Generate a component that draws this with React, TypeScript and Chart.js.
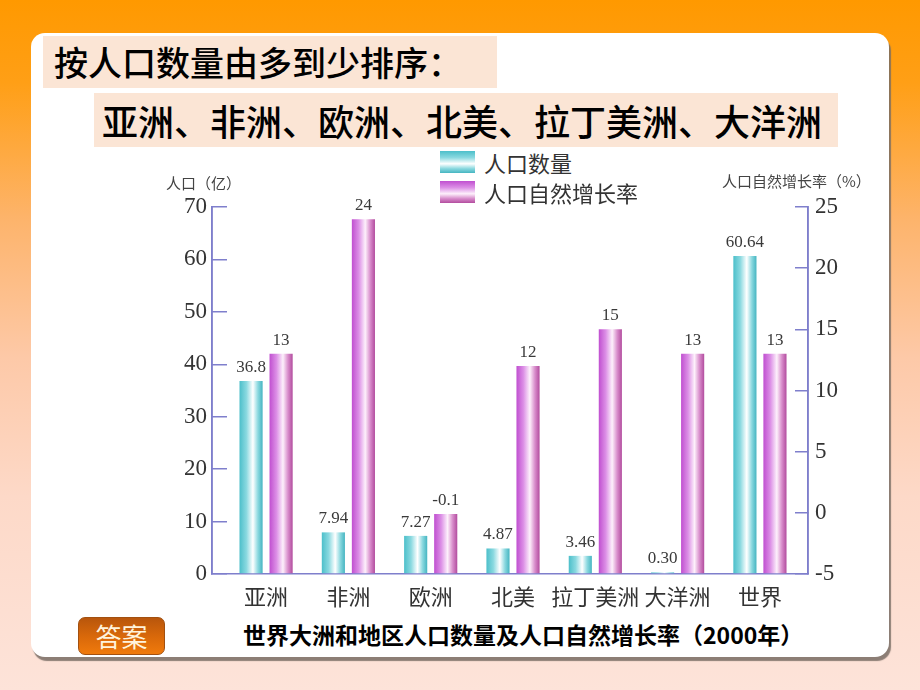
import React, { useEffect, useRef } from 'react';
import { Chart, registerables } from 'chart.js';

Chart.register(...registerables);

// ---- data ----
const categories = ['亚洲', '非洲', '欧洲', '北美', '拉丁美洲', '大洋洲', '世界'];
const population = [36.8, 7.94, 7.27, 4.87, 3.46, 0.3, 60.64];
const populationLabels = ['36.8', '7.94', '7.27', '4.87', '3.46', '0.30', '60.64'];
const growthRate = [13, 24, -0.1, 12, 15, 13, 13];
const growthRateLabels = ['13', '24', '-0.1', '12', '15', '13', '13'];
const seriesNames = ['人口数量', '人口自然增长率'];
const leftAxisTitle = '人口（亿）';
const rightAxisTitle = '人口自然增长率（%）';
const headingText = '按人口数量由多到少排序：';
const answerText = '亚洲、非洲、欧洲、北美、拉丁美洲、大洋洲';
const captionText = '世界大洲和地区人口数量及人口自然增长率（2000年）';
const buttonText = '答案';

// ---- styles ----
const AXIS_COLOR = '#7f7fcc';
const CYAN_STOPS: [number, string][] = [
  [0, '#4cbfca'],
  [0.3, '#8ad9e0'],
  [0.58, '#ffffff'],
  [0.8, '#8ad8df'],
  [1, '#45b5c1'],
];
const MAGENTA_STOPS: [number, string][] = [
  [0, '#c04fd0'],
  [0.3, '#dc8fe6'],
  [0.58, '#fdf0fb'],
  [0.8, '#d88ccb'],
  [1, '#b24c9e'],
];

const gradientPlugin = {
  id: 'barGradient',
  beforeDatasetsDraw(chart: any) {
    const ctx = chart.ctx;
    chart.data.datasets.forEach((_ds: any, di: number) => {
      const meta = chart.getDatasetMeta(di);
      const stops = di === 0 ? CYAN_STOPS : MAGENTA_STOPS;
      meta.data.forEach((el: any) => {
        const { x, width } = el.getProps(['x', 'width'], true);
        const g = ctx.createLinearGradient(x - width / 2, 0, x + width / 2, 0);
        stops.forEach(([o, c]) => g.addColorStop(o, c));
        el.options = Object.assign({}, el.options, { backgroundColor: g });
      });
    });
  },
};

const axisLinePlugin = {
  id: 'axisLines',
  afterDraw(chart: any) {
    const { ctx, chartArea, scales } = chart;
    ctx.save();
    ctx.strokeStyle = AXIS_COLOR;
    ctx.lineWidth = 1.5;
    ctx.beginPath();
    ctx.moveTo(scales.y.right, chartArea.top - 0.75);
    ctx.lineTo(scales.y.right, chartArea.bottom);
    ctx.moveTo(scales.y1.left, chartArea.top - 0.75);
    ctx.lineTo(scales.y1.left, chartArea.bottom);
    ctx.stroke();
    ctx.restore();
  },
};

const valueLabelPlugin = {
  id: 'valueLabels',
  afterDatasetsDraw(chart: any) {
    const ctx = chart.ctx;
    ctx.save();
    ctx.font = '17px "Liberation Serif", "DejaVu Serif", serif';
    ctx.fillStyle = '#3a3a3a';
    ctx.textAlign = 'center';
    ctx.textBaseline = 'bottom';
    chart.data.datasets.forEach((ds: any, di: number) => {
      const meta = chart.getDatasetMeta(di);
      meta.data.forEach((el: any, i: number) => {
        const { x, y } = el.getProps(['x', 'y'], true);
        ctx.fillText(ds.valueLabels[i], x, y - 5);
      });
    });
    ctx.restore();
  },
};

const swatch = (stops: [number, string][]) =>
  `linear-gradient(to bottom, ${stops.map(([o, c]) => `${c} ${o * 100}%`).join(', ')})`;

export default function App() {
  const canvasRef = useRef<HTMLCanvasElement | null>(null);

  useEffect(() => {
    if (!canvasRef.current) return;
    const chart = new Chart(canvasRef.current, {
      type: 'bar',
      data: {
        datasets: [
          {
            label: seriesNames[0],
            data: population.map((v, i) => ({ x: i, y: v })),
            yAxisID: 'y',
            backgroundColor: '#5cc6d0',
            categoryPercentage: 0.73,
            barPercentage: 0.77,
            valueLabels: populationLabels,
          } as any,
          {
            label: seriesNames[1],
            data: growthRate.map((v, i) => ({ x: i, y: v })),
            yAxisID: 'y1',
            base: -5,
            backgroundColor: '#c860c8',
            categoryPercentage: 0.73,
            barPercentage: 0.77,
            valueLabels: growthRateLabels,
          } as any,
        ],
      },
      options: {
        responsive: false,
        animation: false,
        devicePixelRatio: 1,
        layout: { padding: { top: 17, left: 0, right: 0, bottom: 0 } },
        plugins: {
          legend: { display: false },
          tooltip: { enabled: false },
          title: { display: false },
        },
        scales: {
          x: {
            type: 'linear',
            offset: false,
            bounds: 'data',
            min: -0.657,
            max: 6.584,
            grid: { display: false, drawTicks: false, offset: false },
            border: { display: true, color: AXIS_COLOR, width: 1.5 },
            ticks: {
              autoSkip: false,
              maxRotation: 0,
              padding: 9,
              color: '#333',
              font: { family: '"Noto Sans CJK SC", sans-serif', size: 22 },
              callback: (v: any) => (Number.isInteger(v) ? categories[v] ?? '' : ''),
            },
            afterBuildTicks: (s: any) => {
              s.ticks = categories.map((_c, i) => ({ value: i }));
            },
            afterFit: (s: any) => {
              s.height = 36;
              s.paddingLeft = 0;
              s.paddingRight = 0;
            },
          },
          y: {
            type: 'linear',
            position: 'left',
            min: 0,
            max: 70,
            grid: {
              drawOnChartArea: false,
              drawTicks: true,
              tickLength: -15,
              color: AXIS_COLOR,
              lineWidth: 1.5,
            },
            border: { display: true, color: AXIS_COLOR, width: 1.5 },
            ticks: {
              stepSize: 10,
              padding: 20,
              color: '#333',
              font: { family: '"Liberation Serif", "DejaVu Serif", serif', size: 23 },
            },
            afterFit: (s: any) => {
              s.width = 72;
              s.paddingTop = 0;
              s.paddingBottom = 0;
            },
          },
          y1: {
            type: 'linear',
            position: 'right',
            min: -5,
            max: 25,
            grid: {
              drawOnChartArea: false,
              drawTicks: true,
              tickLength: -13,
              color: AXIS_COLOR,
              lineWidth: 1.5,
            },
            border: { display: true, color: AXIS_COLOR, width: 1.5 },
            ticks: {
              stepSize: 5,
              padding: 20,
              color: '#333',
              font: { family: '"Liberation Serif", "DejaVu Serif", serif', size: 23 },
            },
            afterFit: (s: any) => {
              s.width = 92;
              s.paddingTop = 0;
              s.paddingBottom = 0;
            },
          },
        },
      } as any,
      plugins: [gradientPlugin, valueLabelPlugin, axisLinePlugin],
    });
    return () => chart.destroy();
  }, []);

  const cjk = '"Noto Sans CJK SC", "Noto Sans", sans-serif';

  return (
    <div
      style={{
        position: 'absolute',
        left: 0,
        top: 0,
        width: 920,
        height: 690,
        overflow: 'hidden',
        fontFamily: cjk,
        background:
          'linear-gradient(180deg, #ff9900 0%, #ff9f16 12%, #fdb46c 32%, #fdc9a8 52%, #fdd9c8 72%, #fde3d9 100%)',
      }}
    >
      {/* white panel */}
      <div
        style={{
          position: 'absolute',
          left: 31,
          top: 33,
          width: 858,
          height: 624,
          background: '#ffffff',
          borderRadius: 14,
          boxShadow: '2px 4px 1px rgba(120,108,100,0.85)',
        }}
      />
      {/* heading boxes */}
      <div
        style={{
          position: 'absolute',
          left: 43,
          top: 36,
          width: 454,
          height: 52,
          background: '#fbe5d5',
          color: '#000',
          fontSize: 34,
          fontWeight: 500,
          lineHeight: '52px',
          paddingLeft: 11,
          boxSizing: 'border-box',
          whiteSpace: 'nowrap',
        }}
      >
        {headingText}
      </div>
      <div
        style={{
          position: 'absolute',
          left: 94,
          top: 93,
          width: 744,
          height: 54,
          background: '#fbe5d5',
          color: '#000',
          fontSize: 36,
          fontWeight: 500,
          lineHeight: '54px',
          paddingLeft: 8,
          boxSizing: 'border-box',
          whiteSpace: 'nowrap',
        }}
      >
        {answerText}
      </div>

      {/* chart */}
      <canvas
        ref={canvasRef}
        width={760}
        height={420}
        style={{ position: 'absolute', left: 140, top: 190, width: 760, height: 420 }}
      />

      {/* axis titles */}
      <div
        style={{
          position: 'absolute',
          left: 166,
          top: 173,
          fontSize: 15,
          color: '#444',
          lineHeight: '20px',
          whiteSpace: 'nowrap',
        }}
      >
        {leftAxisTitle}
      </div>
      <div
        style={{
          position: 'absolute',
          left: 722,
          top: 171,
          fontSize: 15,
          color: '#444',
          lineHeight: '20px',
          whiteSpace: 'nowrap',
        }}
      >
        {rightAxisTitle}
      </div>

      {/* legend */}
      {seriesNames.map((name, i) => (
        <div
          key={name}
          style={{
            position: 'absolute',
            left: 440,
            top: 150 + i * 30,
            height: 24,
            display: 'flex',
            alignItems: 'center',
            whiteSpace: 'nowrap',
          }}
        >
          <div
            style={{
              width: 35,
              height: 22,
              background: swatch(i === 0 ? CYAN_STOPS : MAGENTA_STOPS),
              marginRight: 9,
            }}
          />
          <span style={{ fontSize: 22, color: '#333', lineHeight: '24px' }}>{name}</span>
        </div>
      ))}

      {/* answer button */}
      <div
        style={{
          position: 'absolute',
          left: 78,
          top: 617,
          width: 87,
          height: 38,
          borderRadius: 7,
          background: 'linear-gradient(180deg, #b8560c 0%, #d8680a 50%, #f07a0c 100%)',
          border: '1px solid #a25010',
          boxSizing: 'border-box',
          color: '#fff3dc',
          fontSize: 26,
          lineHeight: '36px',
          textAlign: 'center',
        }}
      >
        {buttonText}
      </div>

      {/* caption */}
      <div
        style={{
          position: 'absolute',
          left: 243,
          top: 619,
          fontSize: 23,
          fontWeight: 700,
          color: '#000',
          lineHeight: '30px',
          whiteSpace: 'nowrap',
        }}
      >
        {captionText}
      </div>
    </div>
  );
}
